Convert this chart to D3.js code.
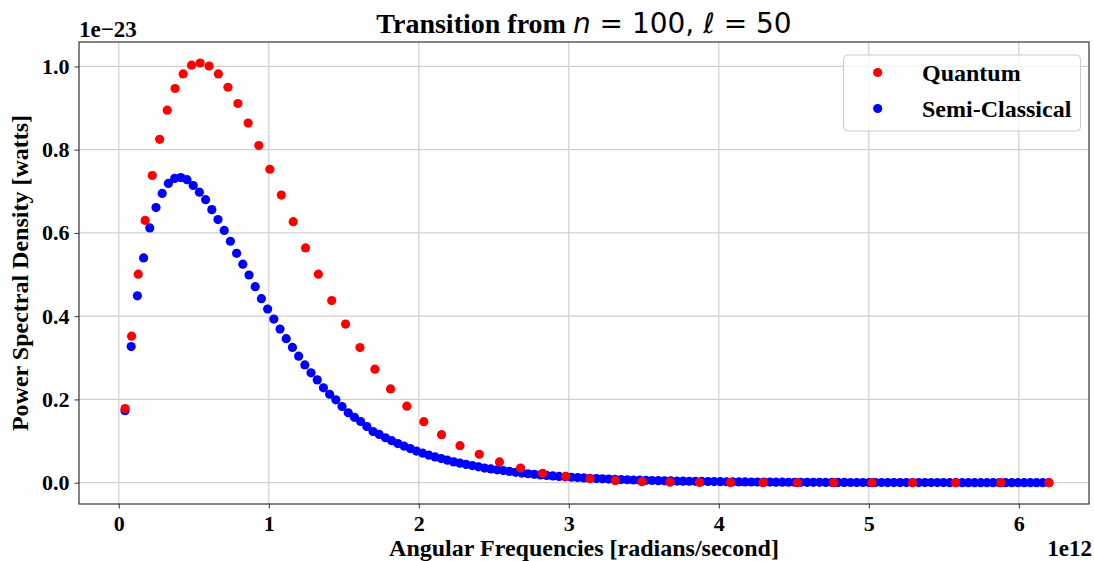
<!DOCTYPE html>
<html>
<head>
<meta charset="utf-8">
<script src="https://cdn.jsdelivr.net/npm/d3@7"></script>
<style>
  html, body { margin: 0; padding: 0; background: #ffffff; }
  svg { display: block; }
</style>
</head>
<body>
<svg id="chart" width="1094" height="561"></svg>
<script>
// ---------------- DATA (values in units of 1e-23 W, frequencies in 1e12 rad/s) ----------------
const quantumX = [0.0420,0.0852,0.1298,0.1758,0.2233,0.2723,0.3229,0.3751,0.4291,0.4849,
  0.5425,0.6022,0.6639,0.7277,0.7939,0.8624,0.9334,1.0071,1.0834,1.1627,
  1.2450,1.3305,1.4193,1.5116,1.6077,1.7077,1.8118,1.9203,2.0334,2.1514,
  2.2745,2.4031,2.5377,2.6783,2.8254,2.9795,3.1410,3.3103,3.4881,3.6748,
  3.8710,4.0775,4.2953,4.5244,4.7663,5.0218,5.2917,5.5774,5.8802,6.2010];
const quantumY = [0.178,0.352,0.501,0.630,0.738,0.825,0.895,0.947,0.982,1.003,
  1.008,1.001,0.982,0.950,0.911,0.864,0.810,0.753,0.691,0.627,
  0.564,0.501,0.4375,0.381,0.3245,0.2726,0.2252,0.1837,0.1466,0.1154,
  0.0889,0.0683,0.0498,0.0353,0.0226,0.0154,0.0096,0.0048,0.0024,0.0012,
  0.0006,0.0003,0.00015,0.0001,0.00005,0,0,0,0,0];
const semiX = [0.0413,0.0827,0.1240,0.1654,0.2067,0.2480,0.2894,0.3307,0.3721,0.4134,
  0.4547,0.4961,0.5374,0.5788,0.6201,0.6614,0.7028,0.7441,0.7855,0.8268,
  0.8681,0.9095,0.9508,0.9922,1.0335,1.0748,1.1162,1.1575,1.1989,1.2402,
  1.2815,1.3229,1.3642,1.4056,1.4469,1.4882,1.5296,1.5709,1.6123,1.6536,
  1.6949,1.7363,1.7776,1.8190,1.8603,1.9016,1.9430,1.9843,2.0257,2.0670,
  2.1083,2.1497,2.1910,2.2324,2.2737,2.3150,2.3564,2.3977,2.4391,2.4804,
  2.5217,2.5631,2.6044,2.6458,2.6871,2.7284,2.7698,2.8111,2.8525,2.8938,
  2.9351,2.9765,3.0178,3.0592,3.1005,3.1418,3.1832,3.2245,3.2659,3.3072,
  3.3485,3.3899,3.4312,3.4726,3.5139,3.5552,3.5966,3.6379,3.6793,3.7206,
  3.7619,3.8033,3.8446,3.8860,3.9273,3.9686,4.0100,4.0513,4.0927,4.1340,
  4.1753,4.2167,4.2580,4.2994,4.3407,4.3820,4.4234,4.4647,4.5061,4.5474,
  4.5887,4.6301,4.6714,4.7128,4.7541,4.7954,4.8368,4.8781,4.9195,4.9608,
  5.0021,5.0435,5.0848,5.1262,5.1675,5.2088,5.2502,5.2915,5.3329,5.3742,
  5.4155,5.4569,5.4982,5.5396,5.5809,5.6222,5.6636,5.7049,5.7463,5.7876,
  5.8289,5.8703,5.9116,5.9530,5.9943,6.0356,6.0770,6.1183,6.1597,6.2010];
const semiY = [0.173,0.327,0.449,0.540,0.612,0.661,0.695,0.719,0.731,0.733,
  0.728,0.714,0.698,0.680,0.656,0.632,0.606,0.580,0.551,0.525,
  0.499,0.471,0.442,0.417,0.393,0.369,0.346,0.325,0.304,0.283,
  0.264,0.247,0.228,0.2125,0.199,0.183,0.168,0.157,0.147,0.135,
  0.123,0.116,0.108,0.101,0.094,0.088,0.082,0.076,0.071,0.066,
  0.062,0.058,0.054,0.050,0.047,0.044,0.041,0.038,0.035,0.033,
  0.031,0.029,0.027,0.025,0.023,0.0215,0.020,0.0187,0.0174,0.0162,
  0.0151,0.0141,0.0131,0.0122,0.0114,0.0106,0.0099,0.0092,0.0086,0.0080,
  0.0075,0.0070,0.0065,0.0060,0.0056,0.0052,0.0049,0.0045,0.0042,0.0039,
  0.0037,0.0034,0.0032,0.0030,0.0028,0.0026,0.0024,0.0022,0.0021,0.0019,
  0.0018,0.0017,0.0016,0.0015,0.0014,0.0013,0.0012,0.0011,0.0010,0.0010,
  0.0009,0.0008,0.0008,0.0007,0.0007,0.0006,0.0006,0.0005,0.0005,0.0005,
  0.0004,0.0004,0.0004,0.0003,0.0003,0.0003,0.0003,0.0002,0.0002,0.0002,
  0.0002,0.0002,0.0002,0.0001,0.0001,0.0001,0.0001,0.0001,0.0001,0.0001,
  0.0001,0.0001,0.0001,0.0001,0.0001,0,0,0,0,0];
const xTicks = [0, 1, 2, 3, 4, 5, 6];
const yTicks = [0.0, 0.2, 0.4, 0.6, 0.8, 1.0];
const seriesNames = ["Quantum", "Semi-Classical"];
const seriesColors = ["#ff0000", "#0000ff"];

// ---------------- LAYOUT ----------------
const plot = { left: 79, right: 1089, top: 42, bottom: 504 };
const serif = "'Liberation Serif', 'Times New Roman', serif";
const svg = d3.select("#chart");

const x = d3.scaleLinear().domain([-0.2653, 6.4680]).range([plot.left, plot.right]);
const y = d3.scaleLinear().domain([-0.0512, 1.0587]).range([plot.bottom, plot.top]);

// grid
const grid = svg.append("g").attr("stroke", "#d0d0d0").attr("stroke-width", 1.2);
grid.selectAll("line.vx").data(xTicks).join("line")
  .attr("x1", d => x(d)).attr("x2", d => x(d))
  .attr("y1", plot.top).attr("y2", plot.bottom);
grid.selectAll("line.hy").data(yTicks).join("line")
  .attr("x1", plot.left).attr("x2", plot.right)
  .attr("y1", d => y(d)).attr("y2", d => y(d));

// axes
const xAxis = d3.axisBottom(x).tickValues(xTicks).tickFormat(d3.format("d")).tickSize(4.5).tickPadding(5);
const yAxis = d3.axisLeft(y).tickValues(yTicks).tickFormat(d3.format(".1f")).tickSize(4.5).tickPadding(5);
const gx = svg.append("g").attr("transform", `translate(0,${plot.bottom})`).call(xAxis);
const gy = svg.append("g").attr("transform", `translate(${plot.left},0)`).call(yAxis);
[gx, gy].forEach(g => {
  g.select(".domain").remove();
  g.selectAll(".tick line").attr("stroke", "#333").attr("stroke-width", 1);
  g.selectAll(".tick text").attr("font-family", serif).attr("font-weight", "bold")
    .attr("font-size", 22).attr("fill", "#000");
});
gx.selectAll(".tick text").attr("dy", "0.8em");

// frame
svg.append("rect").attr("x", plot.left).attr("y", plot.top)
  .attr("width", plot.right - plot.left).attr("height", plot.bottom - plot.top)
  .attr("fill", "none").attr("stroke", "#333").attr("stroke-width", 1.2);

// points (semi-classical beneath, quantum on top)
const r = 4.6;
const semiData = semiX.map((v, i) => ({ x: v, y: semiY[i] }));
const quantData = quantumX.map((v, i) => ({ x: v, y: quantumY[i] }));
svg.append("g").selectAll("circle").data(semiData).join("circle")
  .attr("cx", d => x(d.x)).attr("cy", d => y(d.y)).attr("r", r).attr("fill", seriesColors[1]);
svg.append("g").selectAll("circle").data(quantData).join("circle")
  .attr("cx", d => x(d.x)).attr("cy", d => y(d.y)).attr("r", r).attr("fill", seriesColors[0]);

// title
const title = svg.append("text").attr("x", 584).attr("y", 33).attr("text-anchor", "middle")
  .attr("font-size", 28).attr("fill", "#000");
title.append("tspan").attr("font-family", serif).attr("font-weight", "bold").text("Transition from ");
title.append("tspan").attr("font-family", "'DejaVu Sans'").attr("font-style", "italic").text("n");
title.append("tspan").attr("font-family", "'DejaVu Sans'").text(" = 100, ");
title.append("tspan").attr("font-family", "'DejaVu Sans'").attr("font-style", "italic").text("ℓ");
title.append("tspan").attr("font-family", "'DejaVu Sans'").text(" = 50");

// offset labels
svg.append("text").attr("x", plot.left).attr("y", 37).attr("font-family", serif)
  .attr("font-weight", "bold").attr("font-size", 23).text("1e\u221223");
svg.append("text").attr("x", 1092).attr("y", 556).attr("text-anchor", "end").attr("font-family", serif)
  .attr("font-weight", "bold").attr("font-size", 23).text("1e12");

// axis labels
svg.append("text").attr("x", (plot.left + plot.right) / 2).attr("y", 556).attr("text-anchor", "middle")
  .attr("font-family", serif).attr("font-weight", "bold").attr("font-size", 24)
  .text("Angular Frequencies [radians/second]");
svg.append("text").attr("transform", `translate(28,${(plot.top + plot.bottom) / 2}) rotate(-90)`)
  .attr("text-anchor", "middle").attr("font-family", serif).attr("font-weight", "bold").attr("font-size", 24)
  .text("Power Spectral Density [watts]");

// legend
const lg = svg.append("g");
lg.append("rect").attr("x", 843.5).attr("y", 55).attr("width", 237).attr("height", 76).attr("rx", 4)
  .attr("fill", "#ffffff").attr("fill-opacity", 0.8).attr("stroke", "#cccccc").attr("stroke-width", 1);
const legY = [72.5, 108.5];
seriesNames.forEach((name, i) => {
  lg.append("circle").attr("cx", 877.7).attr("cy", legY[i]).attr("r", r).attr("fill", seriesColors[i]);
  lg.append("text").attr("x", 922).attr("y", legY[i] + 8.5).attr("font-family", serif)
    .attr("font-weight", "bold").attr("font-size", 24).text(name);
});
</script>
</body>
</html>
